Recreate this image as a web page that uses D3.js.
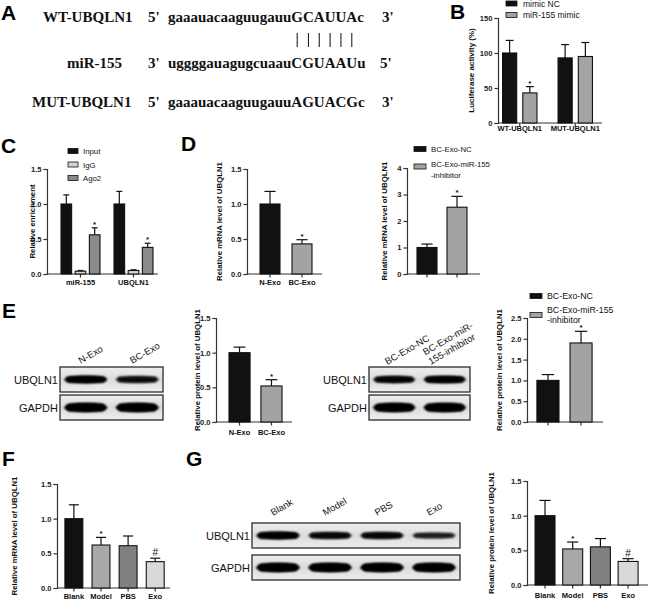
<!DOCTYPE html>
<html><head><meta charset="utf-8">
<script src="https://cdn.jsdelivr.net/npm/d3@7"></script>
<style>body{margin:0;background:#fff}svg{display:block}</style>
</head><body>
<svg id="c" width="650" height="600"></svg>
<script>
// ---------------- DATA ----------------
// Panel A
const seqLabels = ["WT-UBQLN1", "miR-155", "MUT-UBQLN1"];
const seqEnds5 = ["5'", "3'", "5'"];
const seqEnds3 = ["3'", "5'", "3'"];
const seqs = ["gaaauacaaguugauuGCAUUAc", "uggggauagugcuaauCGUAAUu", "gaaauacaaguugauuAGUACGc"];
const pairIdx = [16, 17, 18, 19, 20, 21];
// Panel B
const bGroups = ["WT-UBQLN1", "MUT-UBQLN1"];
const bSeries = ["mimic NC", "miR-155 mimic"];
const bMimicNC = [100, 93], bMimicNCErr = [118, 112], bMimicNCMark = ["", ""];
const bMimic = [43, 95], bMimicErr = [52, 115], bMimicMark = ["*", ""];
const bTicks = [0, 50, 100, 150];
// Panel C
const cGroups = ["miR-155", "UBQLN1"];
const cSeries = ["Input", "IgG", "Ago2"];
const cInput = [1.0, 1.0], cInputErr = [1.13, 1.18];
const cIgG = [0.04, 0.05], cIgGErr = [0.05, 0.06];
const cAgo2 = [0.56, 0.38], cAgo2Err = [0.66, 0.44], cAgo2Mark = ["*", "*"];
const cTicks = [0, 0.5, 1.0, 1.5];
// Panel D
const dCats = ["N-Exo", "BC-Exo"];
const dVals = [1.0, 0.43], dErr = [1.18, 0.49], dMarks = ["", "*"];
const dTicks = [0, 0.5, 1.0, 1.5];
const d2Series = ["BC-Exo-NC", "BC-Exo-miR-155|-inhibitor"];
const d2Vals = [1.0, 2.52], d2Err = [1.13, 2.93], d2Marks = ["", "*"];
const d2Ticks = [0, 1, 2, 3, 4];
// Panel E
const eLanes = ["N-Exo", "BC-Exo"];
const eUbq = [0.95, 0.72], eGapdh = [1, 1];
const eVals = [1.0, 0.52], eErr = [1.08, 0.61], eMarks = ["", "*"];
const eTicks = [0, 0.5, 1.0, 1.5];
const e2Lanes = ["BC-Exo-NC", "BC-Exo-miR-|155-inhibitor"];
const e2Ubq = [0.85, 0.92], e2Gapdh = [0.97, 0.97];
const e2Series = ["BC-Exo-NC", "BC-Exo-miR-155|-inhibitor"];
const e2Vals = [1.0, 1.9], e2Err = [1.14, 2.18], e2Marks = ["", "*"];
const e2Ticks = [0, 0.5, 1.0, 1.5, 2.0, 2.5];
// Panel F
const fCats = ["Blank", "Model", "PBS", "Exo"];
const fVals = [1.0, 0.62, 0.61, 0.38], fErr = [1.2, 0.73, 0.75, 0.43], fMarks = ["", "*", "", "#"];
const fTicks = [0, 0.5, 1.0, 1.5];
// Panel G
const gLanes = ["Blank", "Model", "PBS", "Exo"];
const gUbq = [0.95, 0.78, 0.8, 0.55], gGapdh = [1, 1, 1, 1];
const gVals = [1.0, 0.52, 0.55, 0.34], gErr = [1.22, 0.62, 0.67, 0.38], gMarks = ["", "*", "", "#"];
const gTicks = [0, 0.5, 1.0, 1.5];
// colours
const BLACK = "#111", GRAY = "#a3a3a3", LIGHT = "#d4d4d4", MID = "#8a8a8a";
const fColors = [BLACK, "#a8a8a8", "#808080", "#d9d9d9"];

// ---------------- DRAW ----------------
const SANS = "'Liberation Sans', Arial, sans-serif";
const SERIF = "'Liberation Serif', 'Times New Roman', serif";
const AX = "#333";
const svg = d3.select("#c");
const defs = svg.append("defs");
defs.append("filter").attr("id", "blur").attr("x", "-30%").attr("y", "-100%").attr("width", "160%").attr("height", "300%")
  .append("feGaussianBlur").attr("stdDeviation", 1.0);
const grad = defs.append("linearGradient").attr("id", "blotbg").attr("x1", 0).attr("y1", 0).attr("x2", 0).attr("y2", 1);
grad.append("stop").attr("offset", "0%").attr("stop-color", "#eeeeee");
grad.append("stop").attr("offset", "50%").attr("stop-color", "#dcdcdc");
grad.append("stop").attr("offset", "100%").attr("stop-color", "#eeeeee");

function letter(t, x, y) {
  svg.append("text").attr("x", x).attr("y", y).text(t)
    .attr("font-family", SANS).attr("font-weight", "bold").attr("font-size", 21).attr("fill", "#000");
}

// Panel A
letter("A", 1, 20);
{
  const g = svg.append("g").attr("font-family", SERIF).attr("font-weight", "bold").attr("font-size", 15).attr("fill", "#111");
  const rowsY = [22, 68, 107];
  const labX = [43, 67, 32];
  const endX = [382, 380, 382];
  const seqNodes = [];
  seqs.forEach((s, i) => {
    g.append("text").attr("x", labX[i]).attr("y", rowsY[i]).text(seqLabels[i]);
    g.append("text").attr("x", 148).attr("y", rowsY[i]).text(seqEnds5[i]);
    seqNodes.push(g.append("text").attr("x", 168).attr("y", rowsY[i]).text(s).node());
    g.append("text").attr("x", endX[i]).attr("y", rowsY[i]).text(seqEnds3[i]);
  });
  pairIdx.forEach(k => {
    const ext = seqNodes[0].getExtentOfChar(k);
    const cx = ext.x + ext.width / 2;
    svg.append("line").attr("x1", cx).attr("x2", cx).attr("y1", 33).attr("y2", 47)
      .attr("stroke", "#222").attr("stroke-width", 1.1);
  });
}

function barChart(o) {
  const g = svg.append("g");
  const y = d3.scaleLinear().domain([0, o.max]).range([o.yBottom, o.yTop]);
  const x0 = d3.scaleBand().domain(o.cats).range(o.catRange).paddingInner(o.padIn).paddingOuter(o.padOut);
  const nS = o.series.length;
  const x1 = d3.scaleBand().domain(d3.range(nS)).range([0, x0.bandwidth()]).paddingInner(o.subPad || 0);
  const ax = g.append("g").attr("transform", `translate(${o.axisX},0)`)
    .call(d3.axisLeft(y).tickValues(o.ticks).tickFormat(o.fmt).tickSizeOuter(0).tickSize(3.5).tickPadding(2));
  ax.select(".domain").attr("stroke", AX).attr("stroke-width", 1.2);
  ax.selectAll(".tick line").attr("stroke", AX).attr("stroke-width", 1.2);
  ax.selectAll(".tick text").attr("font-family", SANS).attr("font-weight", "bold").attr("font-size", 7.6).attr("fill", "#222");
  g.append("line").attr("x1", o.axisX).attr("x2", o.axisEnd).attr("y1", o.yBottom).attr("y2", o.yBottom)
    .attr("stroke", AX).attr("stroke-width", 1.2);
  o.cats.forEach(c => {
    const cx = x0(c) + x0.bandwidth() / 2;
    g.append("line").attr("x1", cx).attr("x2", cx).attr("y1", o.yBottom).attr("y2", o.yBottom + 3.5)
      .attr("stroke", AX).attr("stroke-width", 1.2);
    if (o.xLabels) g.append("text").attr("x", cx).attr("y", o.labelY).attr("text-anchor", "middle").text(c)
      .attr("font-family", SANS).attr("font-weight", "bold").attr("font-size", 7.5).attr("fill", "#111");
  });
  o.series.forEach((s, si) => {
    o.cats.forEach((c, i) => {
      const bx = x0(c) + x1(si), bw = x1.bandwidth(), cx = bx + bw / 2;
      const v = s.values[i], e = s.errs[i];
      const col = s.colors ? s.colors[i] : s.color;
      g.append("line").attr("x1", cx).attr("x2", cx).attr("y1", y(v)).attr("y2", y(e))
        .attr("stroke", "#111").attr("stroke-width", 1.2);
      g.append("line").attr("x1", cx - bw * 0.28).attr("x2", cx + bw * 0.28).attr("y1", y(e)).attr("y2", y(e))
        .attr("stroke", "#111").attr("stroke-width", 1.2);
      g.append("rect").attr("x", bx).attr("y", y(v)).attr("width", bw).attr("height", o.yBottom - y(v))
        .attr("fill", col).attr("stroke", "#111").attr("stroke-width", 1.1);
      const m = s.marks ? s.marks[i] : "";
      if (m) g.append("text").attr("x", cx).attr("y", y(e) - (m === "#" ? 2 : 1)).attr("text-anchor", "middle").text(m)
        .attr("font-family", SANS).attr("font-weight", m === "#" ? "normal" : "bold")
        .attr("font-size", m === "#" ? 10 : 8).attr("fill", "#111");
    });
  });
  g.append("text").attr("transform", `translate(${o.titleX},${(o.yTop + o.yBottom) / 2 + (o.titleShift || 0)}) rotate(-90)`)
    .attr("text-anchor", "middle").text(o.title)
    .attr("font-family", SANS).attr("font-weight", "bold").attr("font-size", o.titleSize || 7.8).attr("fill", "#111");
  if (o.legend) {
    const L = o.legend;
    o.series.forEach((s, si) => {
      const cy = L.ys[si];
      g.append("rect").attr("x", L.x).attr("y", cy - 2.5).attr("width", L.w).attr("height", 5)
        .attr("fill", s.color).attr("stroke", "#111").attr("stroke-width", 0.8);
      s.name.split("|").forEach((ln, li) => {
        g.append("text").attr("x", L.x + L.w + L.gap).attr("y", cy + 3 + li * L.lh).text(ln)
          .attr("font-family", SANS).attr("font-size", L.size).attr("fill", "#111");
      });
    });
  }
}

function sideLegend(names, colors, x, ys, textYs, size, lh) {
  names.forEach((n, k) => {
    svg.append("rect").attr("x", x).attr("y", ys[k] - 2.5).attr("width", 12).attr("height", 5)
      .attr("fill", colors[k]).attr("stroke", "#111").attr("stroke-width", 0.8);
    n.split("|").forEach((ln, li) => svg.append("text").attr("x", x + 17).attr("y", textYs[k] + li * lh).text(ln)
      .attr("font-family", SANS).attr("font-size", size).attr("fill", "#111"));
  });
}

const f1 = d3.format(".1f"), f0 = d3.format("d");

// Panel B
letter("B", 450, 19);
barChart({
  axisX: 498, axisEnd: 602, yTop: 18, yBottom: 123, max: 150, ticks: bTicks, fmt: f0,
  cats: bGroups, catRange: [497, 598], padIn: 0.38, padOut: 0.1, subPad: 0.3,
  series: [
    {name: bSeries[0], values: bMimicNC, errs: bMimicNCErr, marks: bMimicNCMark, color: BLACK},
    {name: bSeries[1], values: bMimic, errs: bMimicErr, marks: bMimicMark, color: GRAY}],
  xLabels: true, labelY: 131, title: "Luciferase activity (%)", titleX: 474, titleSize: 8,
  legend: {x: 506, w: 11, gap: 6, ys: [3.5, 15], size: 8.5, lh: 10}
});

// Panel C
letter("C", 1, 153);
barChart({
  axisX: 47, axisEnd: 158, yTop: 169, yBottom: 274, max: 1.5, ticks: cTicks, fmt: f1,
  cats: cGroups, catRange: [55.7, 158.3], padIn: 0.264, padOut: 0.1, subPad: 0.25,
  series: [
    {name: cSeries[0], values: cInput, errs: cInputErr, color: BLACK},
    {name: cSeries[1], values: cIgG, errs: cIgGErr, color: LIGHT},
    {name: cSeries[2], values: cAgo2, errs: cAgo2Err, marks: cAgo2Mark, color: MID}],
  xLabels: true, labelY: 285, title: "Relative enrichment", titleX: 35,
  legend: {x: 68, w: 10, gap: 5, ys: [151, 164.5, 178], size: 7.8, lh: 9}
});

// Panel D
letter("D", 181, 151);
barChart({
  axisX: 247, axisEnd: 322, yTop: 169, yBottom: 274, max: 1.5, ticks: dTicks, fmt: f1,
  cats: dCats, catRange: [250.4, 321.6], padIn: 0.375, padOut: 0.3,
  series: [{name: "", values: dVals, errs: dErr, marks: dMarks, colors: [BLACK, GRAY]}],
  xLabels: true, labelY: 285, title: "Relative mRNA level of UBQLN1", titleX: 222
});
barChart({
  axisX: 407, axisEnd: 480, yTop: 168, yBottom: 274, max: 4, ticks: d2Ticks, fmt: f0,
  cats: d2Series, catRange: [408, 476], padIn: 0.333, padOut: 0.3,
  series: [{name: "", values: d2Vals, errs: d2Err, marks: d2Marks, colors: [BLACK, GRAY]}],
  xLabels: false, title: "Relative mRNA level of UBQLN1", titleX: 387
});
sideLegend(d2Series, [BLACK, GRAY], 414, [149, 166.5], [152, 167], 7.8, 10.5);

// Blots
function blot(o) {
  const g = svg.append("g");
  const lx = d3.scaleBand().domain(o.lanes).range([o.x0, o.x1]).paddingInner(0.12).paddingOuter(0.06);
  o.rows.forEach(r => {
    g.append("rect").attr("x", o.x0).attr("y", r.y0).attr("width", o.x1 - o.x0).attr("height", r.y1 - r.y0)
      .attr("fill", "url(#blotbg)").attr("stroke", "#3a3a3a").attr("stroke-width", 1.4);
    const cy = (r.y0 + r.y1) / 2;
    o.lanes.forEach((l, i) => {
      const it = r.intens[i];
      const h = r.thick * (0.5 + 0.5 * it);
      g.append("ellipse").attr("cx", lx(l) + lx.bandwidth() / 2).attr("cy", cy)
        .attr("rx", lx.bandwidth() / 2 - 1).attr("ry", h / 2)
        .attr("fill", "#050505").attr("opacity", 0.2 + 0.8 * it).attr("filter", "url(#blur)");
      g.append("rect").attr("x", lx(l) + 3).attr("y", cy - h * 0.42).attr("width", lx.bandwidth() - 6).attr("height", h * 0.84)
        .attr("rx", h * 0.42).attr("fill", "#050505").attr("opacity", 0.2 + 0.8 * it).attr("filter", "url(#blur)");
    });
    g.append("text").attr("x", o.x0 - 2).attr("y", cy + 4).attr("text-anchor", "end").text(r.label)
      .attr("font-family", SANS).attr("font-size", 11).attr("fill", "#111");
  });
  o.lanes.forEach(l => {
    const cx = lx(l) + lx.bandwidth() / 2;
    const parts = l.split("|");
    const t = g.append("g").attr("transform", `translate(${cx + o.lblDx - (parts.length - 1) * 7},${o.rows[0].y0 + o.lblDy}) rotate(-30)`);
    parts.forEach((p, pi) => t.append("text").attr("x", 0).attr("y", (pi - parts.length + 1) * 11).text(p)
      .attr("font-family", SANS).attr("font-size", 9.5).attr("fill", "#111"));
  });
}

// Panel E
letter("E", 2, 318);
blot({lanes: eLanes, x0: 60, x1: 163, lblDx: -5, lblDy: -3,
  rows: [{label: "UBQLN1", y0: 367, y1: 392, intens: eUbq, thick: 8},
         {label: "GAPDH", y0: 395, y1: 420, intens: eGapdh, thick: 9.5}]});
barChart({
  axisX: 216, axisEnd: 292, yTop: 318, yBottom: 422, max: 1.5, ticks: eTicks, fmt: f1,
  cats: eLanes, catRange: [219.4, 291.6], padIn: 0.34, padOut: 0.3,
  series: [{name: "", values: eVals, errs: eErr, marks: eMarks, colors: [BLACK, GRAY]}],
  xLabels: true, labelY: 435, title: "Relative protein level of UBQLN1", titleX: 200
});
blot({lanes: e2Lanes, x0: 369, x1: 470, lblDx: -7, lblDy: -2,
  rows: [{label: "UBQLN1", y0: 367, y1: 392, intens: e2Ubq, thick: 8},
         {label: "GAPDH", y0: 395, y1: 420, intens: e2Gapdh, thick: 9.5}]});
barChart({
  axisX: 527, axisEnd: 603, yTop: 318, yBottom: 422, max: 2.5, ticks: e2Ticks, fmt: f1,
  cats: e2Series, catRange: [527, 602], padIn: 0.333, padOut: 0.3,
  series: [{name: "", values: e2Vals, errs: e2Err, marks: e2Marks, colors: [BLACK, GRAY]}],
  xLabels: false, title: "Relative protein level of UBQLN1", titleX: 502
});
sideLegend(e2Series, [BLACK, GRAY], 530, [296, 315], [299, 313], 8.8, 9.5);

// Panel F
letter("F", 2, 466);
barChart({
  axisX: 57, axisEnd: 170, yTop: 484, yBottom: 588, max: 1.5, ticks: fTicks, fmt: f1,
  cats: fCats, catRange: [59.5, 169.6], padIn: 0.34, padOut: 0.2,
  series: [{name: "", values: fVals, errs: fErr, marks: fMarks, colors: fColors}],
  xLabels: true, labelY: 599, title: "Relative mRNA level of UBQLN1", titleX: 17
});

// Panel G
letter("G", 186, 466);
blot({lanes: gLanes, x0: 252, x1: 460, lblDx: -5, lblDy: -7,
  rows: [{label: "UBQLN1", y0: 523, y1: 548, intens: gUbq, thick: 8},
         {label: "GAPDH", y0: 555, y1: 580, intens: gGapdh, thick: 9.5}]});
barChart({
  axisX: 527, axisEnd: 648, yTop: 481, yBottom: 585, max: 1.5, ticks: gTicks, fmt: f1,
  cats: gLanes, catRange: [529.5, 643.6], padIn: 0.28, padOut: 0.2,
  series: [{name: "", values: gVals, errs: gErr, marks: gMarks, colors: fColors}],
  xLabels: true, labelY: 598, title: "Relative protein level of UBQLN1", titleX: 494
});
</script>
</body></html>
